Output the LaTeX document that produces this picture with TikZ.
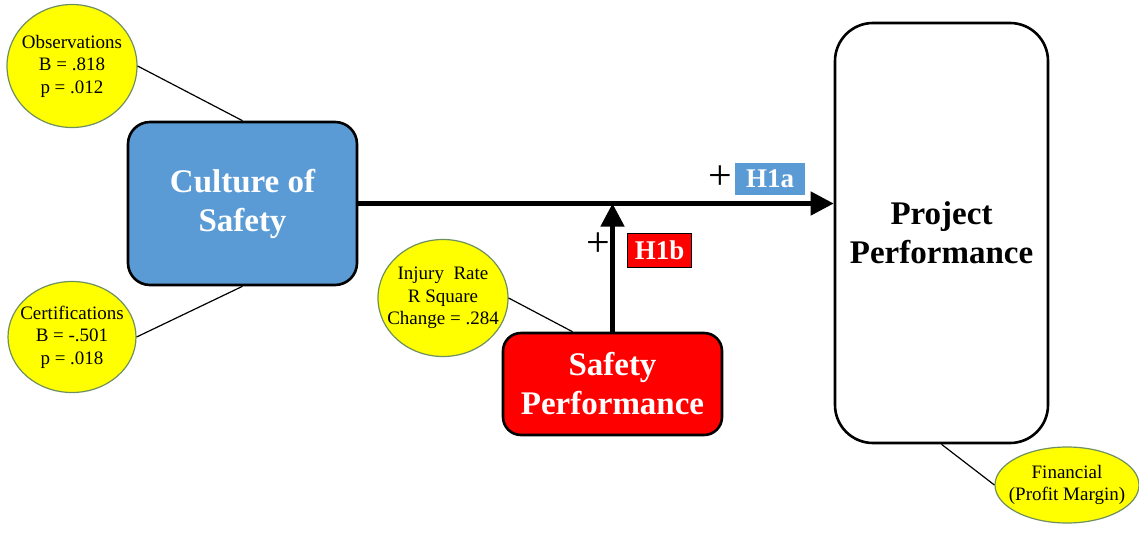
\documentclass[tikz,border=0pt]{standalone}
\usepackage{fontspec}
\setmainfont{Liberation Serif}
\usetikzlibrary{arrows.meta,calc,shapes.geometric}
\definecolor{boxblue}{HTML}{5B9BD5}
\definecolor{boxred}{HTML}{FF0000}
\definecolor{noteyellow}{HTML}{FFFF00}
\definecolor{noteedge}{HTML}{6F8F5F}
\tikzset{
  construct/.style={draw=black, line width=2.6pt, align=center, inner sep=0pt,
    font=\fontsize{33}{39}\selectfont\bfseries},
  note/.style={ellipse, draw=noteedge, line width=1.2pt, fill=noteyellow,
    inner sep=0pt},
  notetext/.style={align=center, inner sep=0pt, font=\fontsize{19}{22.5}\selectfont},
  tag/.style={inner sep=0pt, text=white, font=\fontsize{27}{30}\selectfont\bfseries},
  plus/.style={inner sep=0pt, font=\fontsize{42}{42}\selectfont},
  link/.style={draw=black, line width=1.2pt},
  path arrow/.style={draw=black, line width=4.5pt,
    -{Triangle[length=23pt,width=23pt]}}
}
\begin{document}
\begin{tikzpicture}[x=1pt,y=-1pt]
\useasboundingbox (0,0) rectangle (1139,538);

% constructs
\node[construct, fill=boxblue, text=white, rounded corners=22pt,
  minimum width=229pt, minimum height=163pt] (culture) at (242.5,203.5)
  {Culture of\\Safety};
\node[construct, fill=boxred, text=white, rounded corners=18pt,
  minimum width=219pt, minimum height=102pt] (safety) at (612.5,384)
  {Safety\\Performance};
\node[construct, fill=white, text=black, rounded corners=38pt,
  minimum width=213pt, minimum height=420pt] (proj) at (941.5,233)
  {Project\\Performance};

% measures: fixed-size ellipses with their text laid on top
\node[note, minimum width=130pt, minimum height=123pt] (obs) at (72,66) {};
\node[notetext] (obstext) at (obs.center) {Observations\\B = .818\\p = .012};
\node[note, minimum width=128pt, minimum height=111pt] (cert) at (72,337) {};
\node[notetext] (certtext) at (cert.center) {Certifications\\B = -.501\\p = .018};
\node[note, minimum width=130pt, minimum height=117pt] (inj) at (443,298) {};
\node[notetext] (injtext) at (inj.center) {Injury\ \ Rate\\R Square\\Change = .284};
\node[note, minimum width=144pt, minimum height=76pt] (fin) at (1067,485) {};
\node[notetext] (fintext) at (fin.center) {Financial\\(Profit Margin)};

% measure links
\draw[link] (obs.east) -- (culture.north);
\draw[link] (cert.east) -- (culture.south);
\coordinate (injfoot) at ($(safety.north)+(-40,0)$);
\draw[link] (inj.east) -- (injfoot);
\draw[link] (proj.south) -- (fin.west);

% hypothesised paths
\draw[path arrow] (culture.east) -- (culture.east -| proj.west);
\coordinate (meet) at (safety.north |- culture.east);
\draw[path arrow] (safety.north) -- (meet);

% hypothesis tags
\node[tag, fill=boxblue, minimum width=70pt, minimum height=32pt] (h1a) at (770,179) {H1a};
\node[plus] (p1) at (720,178) {+};
\node[tag, fill=boxred, draw=black, line width=1.5pt, minimum width=64pt, minimum height=34pt] (h1b) at (659.5,250.5) {H1b};
\node[plus] (p2) at (598,245) {+};
\end{tikzpicture}
\end{document}
